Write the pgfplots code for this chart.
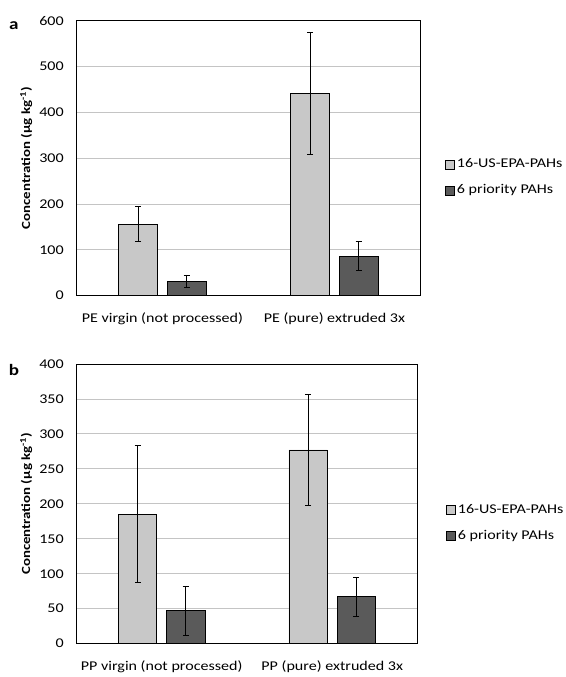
\documentclass[border=0pt]{standalone}
\usepackage{pgfplots}
\pgfplotsset{compat=1.18}
\usepackage{fontspec}
\setmainfont{Carlito}[FakeStretch=1.2]
\definecolor{lightbar}{HTML}{C8C8C8}
\definecolor{darkbar}{HTML}{5A5A5A}
\definecolor{gridc}{HTML}{C4C4C4}
\begin{document}
\fontsize{13.5pt}{16pt}\selectfont
\begin{tikzpicture}[x=1pt,y=1pt]
\pgfplotsset{
  every axis/.style={
    scale only axis,
    width=347pt,
    font=\fontsize{13.5pt}{16pt}\selectfont,
    ybar, bar width=0.225,
    xmin=-0.5, xmax=1.5,
    ymin=0,
    xtick={0,1},
    ytick style={draw=none}, xtick style={draw=none},
    ymajorgrids, grid style={gridc, line width=0.8pt},
    axis line style={black, line width=0.8pt},
    yticklabel style={xshift=-8pt},
    xticklabel style={yshift=-8pt},
    ylabel style={font=\fontsize{12.5pt}{15pt}\selectfont\bfseries, yshift=-2pt},
    ylabel={Concentration (µg kg\textsuperscript{-1})},
    /pgf/number format/assume math mode=true,
    legend cell align=left,
    legend style={draw=none, fill=none, inner sep=0pt, row sep=11pt, font=\fontsize{13.5pt}{16pt}\selectfont, anchor=west},
    legend image code/.code={\draw[#1, draw=black, line width=0.6pt] (0pt,-4.5pt) rectangle (9pt,4.5pt);},
    error bars/y dir=both, error bars/y explicit,
    error bars/error bar style={black, line width=0.7pt},
    error bars/error mark options={rotate=90, mark size=3pt, black, line width=0.7pt},
  },
}
\begin{axis}[
  name=a, anchor=north west, at={(0,0)},
  height=277pt, ymax=600, ytick={0,100,...,600},
  xticklabels={PE virgin (not processed), PE (pure) extruded 3x},
  legend style={at={(1.072,0.43)}},
]
\addplot[fill=lightbar, draw=black, line width=0.7pt, bar shift=-0.141] coordinates {(0,156) +- (0,38) (1,442) +- (0,133)};
\addplot[fill=darkbar, draw=black, line width=0.7pt, bar shift=0.141] coordinates {(0,31) +- (0,14) (1,86) +- (0,32)};
\legend{16-US-EPA-PAHs, 6 priority PAHs}
\end{axis}
\node[font=\fontsize{16pt}{18pt}\selectfont\bfseries] at (-63pt,-5pt) {a};
\begin{axis}[
  name=b, anchor=north west, at={(0,-346pt)},
  width=344pt, height=282pt, ymax=400, ytick={0,50,...,400},
  xticklabels={PP virgin (not processed), PP (pure) extruded 3x},
  legend style={at={(1.084,0.433)}},
]
\addplot[fill=lightbar, draw=black, line width=0.7pt, bar shift=-0.141] coordinates {(0,185) +- (0,98) (1,277) +- (0,79)};
\addplot[fill=darkbar, draw=black, line width=0.7pt, bar shift=0.141] coordinates {(0,47) +- (0,35) (1,67) +- (0,28)};
\legend{16-US-EPA-PAHs, 6 priority PAHs}
\end{axis}
\node[font=\fontsize{16pt}{18pt}\selectfont\bfseries] at (-63pt,-352pt) {b};
\path[use as bounding box] (-77pt,21pt) rectangle (493pt,-656pt);
\end{tikzpicture}
\end{document}
